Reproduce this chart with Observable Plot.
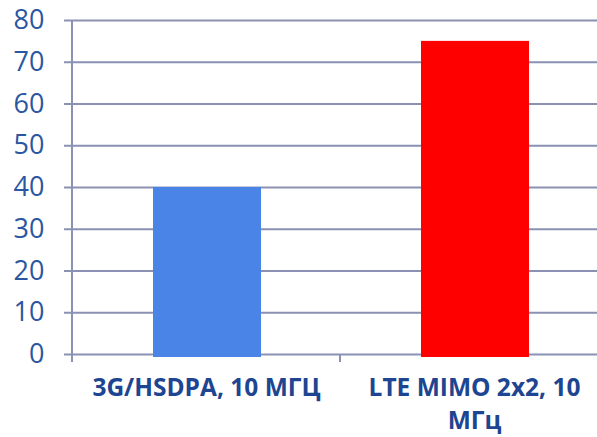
<!DOCTYPE html>
<html>
<head>
<meta charset="utf-8">
<script src="https://cdn.jsdelivr.net/npm/d3@7"></script>
<script src="https://cdn.jsdelivr.net/npm/@observablehq/plot@0.6"></script>
<style>
  html, body { margin: 0; padding: 0; background: #fff; }
</style>
</head>
<body>
<div id="chart"></div>
<script>
const categories = ["3G/HSDPA, 10 МГЦ", "LTE MIMO 2x2, 10 МГц"];
const values = [40, 75];
const colors = ["#4a84e6", "#ff0000"];
const yTicks = [0, 10, 20, 30, 40, 50, 60, 70, 80];
const labelLines = {"3G/HSDPA, 10 МГЦ": "3G/HSDPA, 10 МГЦ", "LTE MIMO 2x2, 10 МГц": "LTE MIMO 2x2, 10\nМГц"};

const data = categories.map((c, i) => ({cat: c, value: values[i], color: colors[i]}));
const gridColor = "#8a91b3";

const chart = Plot.plot({
  width: 597,
  height: 437,
  marginLeft: 72,
  marginRight: 0,
  marginTop: 20,
  marginBottom: 83,
  style: {fontFamily: "'Open Sans', sans-serif", background: "#fff"},
  x: {domain: categories, range: [72, 608], padding: 0, label: null},
  y: {domain: [0, 80], label: null},
  marks: [
    Plot.gridY(yTicks, {stroke: gridColor, strokeOpacity: 1, strokeWidth: 2}),
    Plot.barY(data, {x: "cat", y: "value", fill: "color", insetLeft: 81, insetRight: 79, insetBottom: -3}),
    Plot.axisY(yTicks, {tickSize: 8, tickPadding: 20, stroke: gridColor, strokeWidth: 2, strokeOpacity: 1, fill: "#2b56a1", fontSize: 27, tickFormat: d => d}),
    Plot.axisX({tickSize: 0, tickPadding: 17, fill: "#1d4591", fontSize: 24.5, fontWeight: "bold", lineHeight: 1.38, tickFormat: d => labelLines[d]}),
    (index, {x, y}) => {
      const g = d3.create("svg:g").attr("stroke", gridColor).attr("stroke-width", 2);
      const y0 = y(0), yTop = y(80);
      g.append("line").attr("x1", 72).attr("x2", 72).attr("y1", yTop).attr("y2", y0 + 8);
      categories.forEach(c => {
        const xp = x(c);
        g.append("line").attr("x1", xp).attr("x2", xp).attr("y1", y0).attr("y2", y0 + 8);
      });
      return g.node();
    }
  ]
});
document.getElementById("chart").appendChild(chart);
</script>
</body>
</html>
